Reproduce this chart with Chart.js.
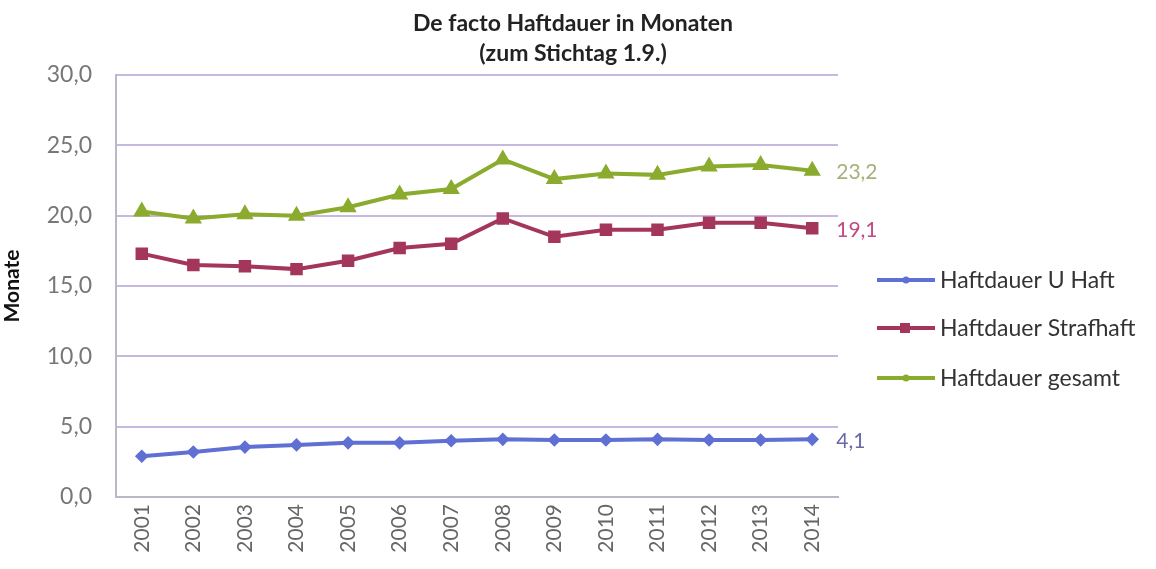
<!DOCTYPE html>
<html>
<head>
<meta charset="utf-8">
<script src="https://cdn.jsdelivr.net/npm/chart.js@4"></script>
<style>
  html, body { margin: 0; padding: 0; background: #fff; }
  #wrap { width: 1156px; height: 569px; position: relative; }
</style>
</head>
<body>
<div id="wrap"><canvas id="haftChart" width="1156" height="569"></canvas></div>
<script>
const years = ['2001', '2002', '2003', '2004', '2005', '2006', '2007', '2008', '2009', '2010', '2011', '2012', '2013', '2014'];
const uHaft = [2.9, 3.2, 3.55, 3.7, 3.85, 3.85, 4.0, 4.1, 4.05, 4.05, 4.1, 4.05, 4.05, 4.1];
const strafhaft = [17.3, 16.5, 16.4, 16.2, 16.8, 17.7, 18.0, 19.8, 18.5, 19.0, 19.0, 19.5, 19.5, 19.1];
const gesamt = [20.3, 19.8, 20.1, 20.0, 20.6, 21.5, 21.9, 24.0, 22.6, 23.0, 22.9, 23.5, 23.6, 23.2];
const endLabels = ['4,1', '19,1', '23,2'];
const seriesNames = ['Haftdauer U Haft', 'Haftdauer Strafhaft', 'Haftdauer gesamt'];

const FONT = 'Lato, "Open Sans", sans-serif';
const colors = ['#5f6fd3', '#a3365a', '#8bab2e'];
const labelColors = ['#6a68a8', '#c24a85', '#a9b07a'];

const ctx = document.getElementById('haftChart').getContext('2d');

// title, end labels and legend drawn by hand
const extras = {
    id: 'extras',
    afterDraw(chart) {
        const c = chart.ctx;
        c.save();
        c.fillStyle = '#222';
        c.textAlign = 'center';
        c.textBaseline = 'middle';
        c.font = 'bold 23px ' + FONT;
        c.fillText('De facto Haftdauer in Monaten', 573, 24);
        c.fillText('(zum Stichtag 1.9.)', 573, 54);

        // value at the last point of each series
        c.textAlign = 'left';
        c.font = '21px ' + FONT;
        chart.data.datasets.forEach((ds, i) => {
            const meta = chart.getDatasetMeta(i);
            const pt = meta.data[meta.data.length - 1];
            c.fillStyle = labelColors[i];
            c.fillText(endLabels[i], pt.x + 24, pt.y + 2);
        });

        // legend
        const ys = [280, 328, 378];
        chart.data.datasets.forEach((ds, i) => {
            c.strokeStyle = colors[i];
            c.lineWidth = 4;
            c.beginPath();
            c.moveTo(877, ys[i]);
            c.lineTo(935, ys[i]);
            c.stroke();
            c.fillStyle = colors[i];
            if (i === 1) {
                c.fillRect(900, ys[i] - 5, 10, 10);
            } else {
                c.beginPath();
                c.arc(906, ys[i], 3.5, 0, Math.PI * 2);
                c.fill();
            }
            c.fillStyle = '#333';
            c.font = '23px ' + FONT;
            c.fillText(seriesNames[i], 940, ys[i] + 1);
        });
        c.restore();
    }
};

const haftChart = new Chart(ctx, {
    type: 'line',
    data: {
        labels: years,
        datasets: [
            {
                label: seriesNames[0],
                data: uHaft,
                borderColor: colors[0],
                backgroundColor: colors[0],
                borderWidth: 4,
                pointStyle: 'rectRot',
                pointRadius: 4,
                tension: 0
            },
            {
                label: seriesNames[1],
                data: strafhaft,
                borderColor: colors[1],
                backgroundColor: colors[1],
                borderWidth: 4,
                pointStyle: 'rect',
                pointRadius: 6,
                tension: 0
            },
            {
                label: seriesNames[2],
                data: gesamt,
                borderColor: colors[2],
                backgroundColor: colors[2],
                borderWidth: 4,
                pointStyle: 'triangle',
                pointRadius: 6,
                tension: 0
            }
        ]
    },
    options: {
        responsive: false,
        animation: false,
        layout: {
            padding: { top: 75, right: 318, left: 0, bottom: 0 }
        },
        plugins: {
            legend: { display: false },
            tooltip: { enabled: false }
        },
        scales: {
            x: {
                offset: true,
                grid: { display: false, drawTicks: false },
                border: { color: '#b8b8c8', width: 2 },
                ticks: {
                    color: '#666',
                    font: { family: FONT, size: 21 },
                    maxRotation: 90,
                    minRotation: 90,
                    padding: 7
                },
                afterFit(scale) { scale.height = 72; }
            },
            y: {
                min: 0,
                max: 30,
                ticks: {
                    stepSize: 5,
                    color: '#777',
                    font: { family: FONT, size: 23 },
                    padding: 24,
                    callback: v => v.toFixed(1).replace('.', ',')
                },
                grid: { color: '#c7b8e0', lineWidth: 2, drawTicks: false },
                border: { color: '#b8b8c8', width: 2 },
                title: {
                    display: true,
                    text: 'Monate',
                    color: '#111',
                    font: { family: FONT, size: 21, weight: 'bold' },
                    padding: 0
                },
                afterFit(scale) { scale.width = 116; }
            }
        }
    },
    plugins: [extras]
});
</script>
</body>
</html>
